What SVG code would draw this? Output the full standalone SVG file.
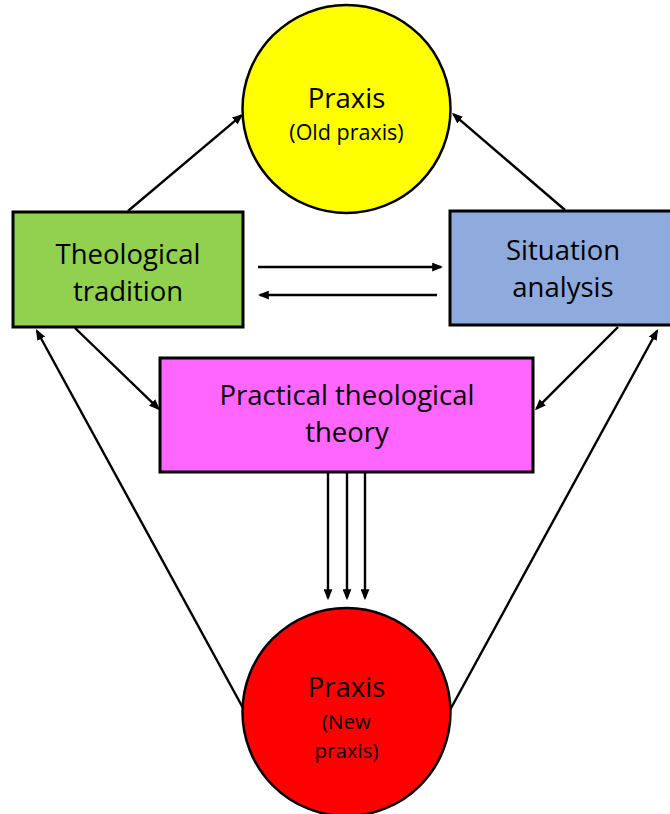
<svg xmlns="http://www.w3.org/2000/svg" width="670" height="814" viewBox="0 0 670 814">
  <style>
    .node { stroke: #000; }
    .box { stroke-width: 3; }
    .circ { stroke-width: 2.5; }
    .lbl { font-family: "Open Sans", "Liberation Sans", sans-serif; fill: #000; text-anchor: middle; }
    .big { font-size: 27.5px; }
    .small { font-size: 21.5px; }
    .conn line { stroke: #000; stroke-width: 2.4; marker-end: url(#arrow); }
  </style>
  <defs>
    <marker id="arrow" viewBox="0 0 10 8" markerUnits="userSpaceOnUse" markerWidth="11" markerHeight="9" refX="8" refY="4" orient="auto">
      <path d="M0,0 L10,4 L0,8 z" fill="#000"/>
    </marker>
  </defs>
  <rect width="670" height="814" fill="#fff"/>

  <!-- connectors -->
  <g id="connectors" class="conn">
    <line x1="128" y1="211" x2="241.5" y2="115.3"/>
    <line x1="565" y1="210" x2="453.5" y2="114.3"/>
    <line x1="258" y1="267" x2="441" y2="267"/>
    <line x1="437" y1="295" x2="260" y2="295"/>
    <line x1="75" y1="328" x2="158.5" y2="408.6"/>
    <line x1="618" y1="327" x2="536.5" y2="408.6"/>
    <line x1="328" y1="473" x2="328" y2="598"/>
    <line x1="347" y1="473" x2="347" y2="598"/>
    <line x1="365" y1="473" x2="365" y2="598"/>
    <line x1="243" y1="708" x2="37" y2="331"/>
    <line x1="450" y1="710" x2="657" y2="331"/>
  </g>

  <!-- old praxis -->
  <g id="praxis-old">
    <circle class="node circ" cx="346.5" cy="109" r="104" fill="#FFFF00"/>
    <text class="lbl big" x="346.5" y="108">Praxis</text>
    <text class="lbl small" x="346.5" y="140">(Old praxis)</text>
  </g>

  <!-- theological tradition -->
  <g id="theological-tradition">
    <rect class="node box" x="13" y="212" width="230" height="115" fill="#92D050"/>
    <text class="lbl big" x="128" y="264">Theological</text>
    <text class="lbl big" x="128" y="301">tradition</text>
  </g>

  <!-- situation analysis -->
  <g id="situation-analysis">
    <rect class="node box" x="450" y="211" width="240" height="114" fill="#8FAADC"/>
    <text class="lbl big" x="563" y="260">Situation</text>
    <text class="lbl big" x="563" y="297">analysis</text>
  </g>

  <!-- practical theological theory -->
  <g id="practical-theory">
    <rect class="node box" x="160" y="358" width="373" height="114" fill="#FF66FF"/>
    <text class="lbl big" x="347" y="405">Practical theological</text>
    <text class="lbl big" x="347" y="442">theory</text>
  </g>

  <!-- new praxis -->
  <g id="praxis-new">
    <circle class="node circ" cx="346.5" cy="712" r="104" fill="#FF0000"/>
    <text class="lbl big" x="346.5" y="697">Praxis</text>
    <text class="lbl" x="346.5" y="729" font-size="20.5">(New</text>
    <text class="lbl" x="346.5" y="758" font-size="20.5">praxis)</text>
  </g>
</svg>
